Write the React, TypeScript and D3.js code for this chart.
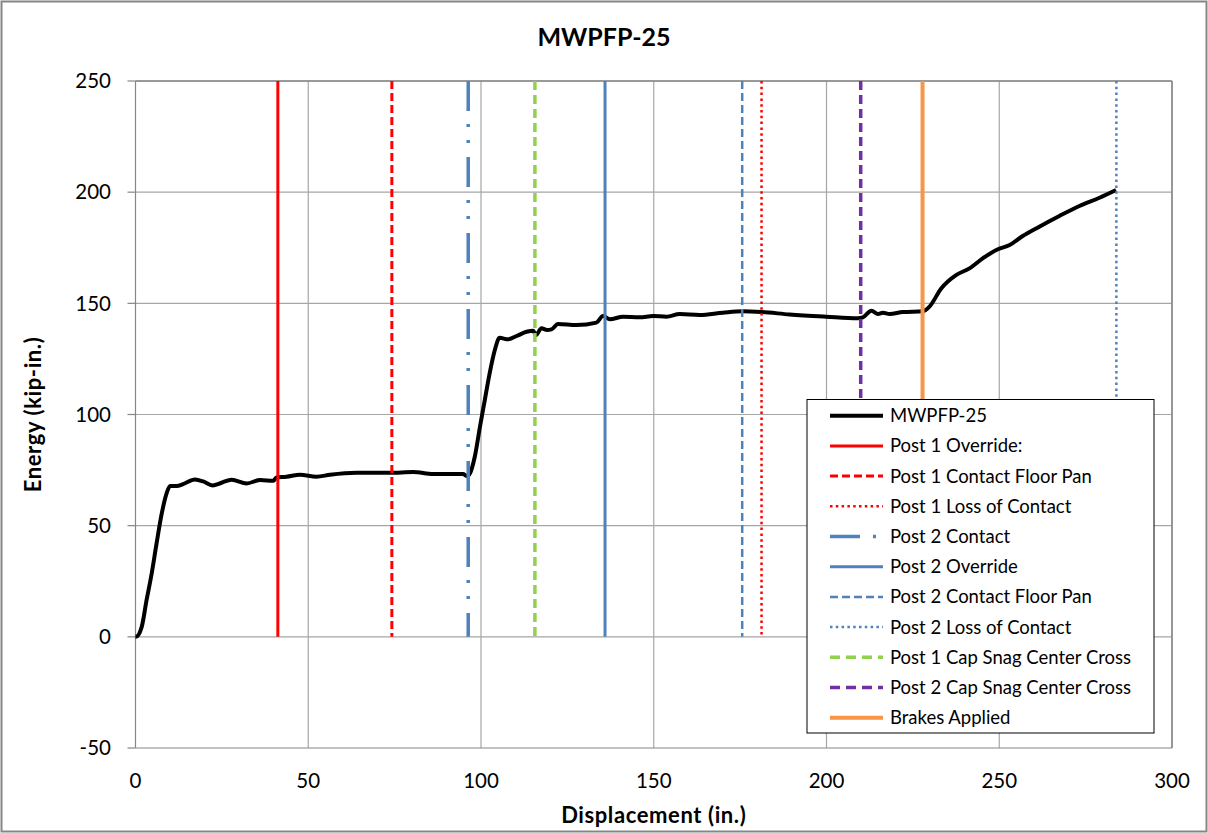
import React from "react";
import * as d3 from "d3";

// energy curve, displacement (in.) vs energy (kip-in.)
const dispValues = [
  0, 0.1, 1.8, 3.2, 4.7, 6.1, 7.6, 9.0, 10.0, 11.9, 13.8, 17.2, 19.6, 22.3, 24.9, 27.8, 32.2, 36.0, 39.9, 40.8,
  43.7, 47.6, 52.4, 56.3, 64.0, 73.6, 80.4, 86.1, 94.8, 96.0, 96.8, 98.2, 99.7, 101.1, 102.5, 104.0, 105.4,
  107.8, 110.3, 113.2, 115.1, 115.9, 117.5, 119.1, 120.4, 122.3, 127.6, 133.4, 135.3, 137.3, 141.1, 145.9,
  149.8, 153.7, 157.5, 163.3, 170.0, 175.6, 181.1, 189.3, 199.9, 209.1, 210.5, 213.0, 214.9, 216.3, 218.3,
  222.1, 227.9, 229.8, 233.2, 237.5, 241.4, 245.2, 249.6, 253.0, 256.8, 261.6, 267.4, 273.2, 279.0, 283.8,
];
const energyValues = [
  0, 0, 4.5, 16.5, 28.6, 42, 55.5, 64.5, 67.8, 67.8, 68.7, 70.8, 69.9, 68.1, 69.3, 70.7, 69.0, 70.5, 70.2, 71.7,
  72.0, 72.9, 72.0, 72.9, 73.8, 73.8, 74.1, 73.2, 73.2, 72.3, 73.5, 81, 94.5, 106.5, 118.5, 129, 134.5,
  133.8, 135.3, 137.2, 137.7, 135.7, 138.8, 138.0, 138.3, 140.7, 140.2, 141.3, 144.3, 142.8, 144.0, 143.7,
  144.3, 144.0, 145.2, 144.8, 145.8, 146.4, 146.1, 145.0, 144.0, 143.3, 143.7, 146.7, 145.2, 145.8, 145.2,
  146.1, 146.4, 148.5, 156.7, 162.7, 165.7, 170.2, 174.3, 176.2, 180.3, 184.5, 189.3, 193.8, 197.5, 201,
];

// event markers (displacement, in.)
const eventNames = [
  "Post 1 Override:",
  "Post 1 Contact Floor Pan",
  "Post 1 Loss of Contact",
  "Post 2 Contact",
  "Post 2 Override",
  "Post 2 Contact Floor Pan",
  "Post 2 Loss of Contact",
  "Post 1 Cap Snag Center Cross",
  "Post 2 Cap Snag Center Cross",
  "Brakes Applied",
];
const eventDisp = [41.2, 74.2, 181.2, 96.3, 135.9, 175.6, 283.9, 115.6, 209.9, 227.8];

const xTicks = [0, 50, 100, 150, 200, 250, 300];
const yTicks = [-50, 0, 50, 100, 150, 200, 250];

const eventStyles = [
  { color: "#FF0000", width: 3, dash: "" },
  { color: "#FF0000", width: 3, dash: "8,4" },
  { color: "#FF0000", width: 2.5, dash: "2.5,3.3" },
  { color: "#4F81BD", width: 3.5, dash: "30,13,3,13,3,14" },
  { color: "#4F81BD", width: 3, dash: "" },
  { color: "#4F81BD", width: 2.5, dash: "8,4" },
  { color: "#4F81BD", width: 2.5, dash: "2.5,3.3" },
  { color: "#92D050", width: 3.5, dash: "9,5" },
  { color: "#7030A0", width: 3.5, dash: "9,5" },
  { color: "#F79646", width: 4, dash: "" },
];
const legendDash = ["", "", "8,4", "2.5,3.3", "30,13,3,13", "", "8,4", "2.5,3.3", "10,6", "10,6", ""];

const W = 1208;
const H = 833;
const margin = { left: 135.5, right: 36, top: 81, bottom: 85 };
const font = "Lato, 'Open Sans', sans-serif";

export default function App() {
  const x = d3.scaleLinear().domain([0, 300]).range([margin.left, W - margin.right]);
  const y = d3.scaleLinear().domain([-50, 250]).range([H - margin.bottom, margin.top]);

  const pts: [number, number][] = dispValues.map((d, i) => [d, energyValues[i]]);
  const line = d3
    .line<[number, number]>()
    .x((d) => x(d[0]))
    .y((d) => y(d[1]))
    .curve(d3.curveMonotoneX);

  const legendItems = [
    { name: "MWPFP-25", color: "#000000", width: 4 },
    ...eventNames.map((n, i) => ({ name: n, color: eventStyles[i].color, width: eventStyles[i].width })),
  ];

  const lx = 807;
  const ly = 399.5;
  const lw = 347;
  const lh = 333.5;
  const rowH = 30.2;

  return (
    <svg width={W} height={H} style={{ position: "absolute", left: 0, top: 0, background: "#fff" }} fontFamily={font}>
      <rect x={1.5} y={1.5} width={W - 3} height={H - 3} fill="#fff" stroke="#868686" strokeWidth={2} />

      <text x={W / 2} y={46} textAnchor="middle" fontSize={25} fontWeight="bold">
        MWPFP-25
      </text>

      {/* grid */}
      {xTicks.slice(1).map((t) => (
        <line key={"gx" + t} x1={x(t)} x2={x(t)} y1={y(-50)} y2={y(250)} stroke="#a6a6a6" strokeWidth={1.2} />
      ))}
      {yTicks.slice(1).map((t) => (
        <line key={"gy" + t} x1={x(0)} x2={x(300)} y1={y(t)} y2={y(t)} stroke="#a6a6a6" strokeWidth={1.2} />
      ))}
      <line x1={x(0)} x2={x(300)} y1={y(250)} y2={y(250)} stroke="#868686" strokeWidth={1.5} />
      <line x1={x(300)} x2={x(300)} y1={y(-50)} y2={y(250)} stroke="#868686" strokeWidth={1.5} />
      <line x1={x(0)} x2={x(0)} y1={y(-50)} y2={y(250)} stroke="#868686" strokeWidth={1.2} />
      <line x1={x(0)} x2={x(300)} y1={y(-50)} y2={y(-50)} stroke="#868686" strokeWidth={1.2} />

      {/* y ticks */}
      {yTicks.map((t) => (
        <g key={"yt" + t}>
          <line x1={x(0) - 8} x2={x(0)} y1={y(t)} y2={y(t)} stroke="#868686" strokeWidth={1.2} />
          <text x={111} y={y(t)} dy="0.35em" textAnchor="end" fontSize={20.5}>
            {t}
          </text>
        </g>
      ))}
      {xTicks.map((t) => (
        <text key={"xt" + t} x={x(t)} y={788} textAnchor="middle" fontSize={20.5}>
          {t}
        </text>
      ))}

      <text
        x={(x(0) + x(300)) / 2}
        y={823}
        textAnchor="middle"
        fontSize={22}
        fontWeight="bold"
        letterSpacing={0.6}
      >
        Displacement (in.)
      </text>
      <text
        transform={`translate(41,${(y(-50) + y(250)) / 2}) rotate(-90)`}
        textAnchor="middle"
        fontSize={22}
        fontWeight="bold"
        letterSpacing={0.6}
      >
        Energy (kip-in.)
      </text>

      {/* data */}
      <path d={line(pts) || ""} fill="none" stroke="#000" strokeWidth={4} strokeLinejoin="round" />

      {eventDisp.map((d, i) => (
        <line
          key={"ev" + i}
          x1={x(d)}
          x2={x(d)}
          y1={y(250)}
          y2={y(0)}
          stroke={eventStyles[i].color}
          strokeWidth={eventStyles[i].width}
          strokeDasharray={eventStyles[i].dash}
        />
      ))}

      {/* legend */}
      <rect x={lx} y={ly} width={lw} height={lh} fill="#fff" stroke="#000" strokeWidth={1} />
      {legendItems.map((it, i) => {
        const cy = ly + 16.2 + i * rowH;
        return (
          <g key={"lg" + i}>
            <line
              x1={830}
              x2={883}
              y1={cy}
              y2={cy}
              stroke={it.color}
              strokeWidth={it.width}
              strokeDasharray={legendDash[i]}
            />
            <text x={890} y={cy} dy="0.35em" fontSize={18.5} fill="#000">
              {it.name}
            </text>
          </g>
        );
      })}
    </svg>
  );
}
